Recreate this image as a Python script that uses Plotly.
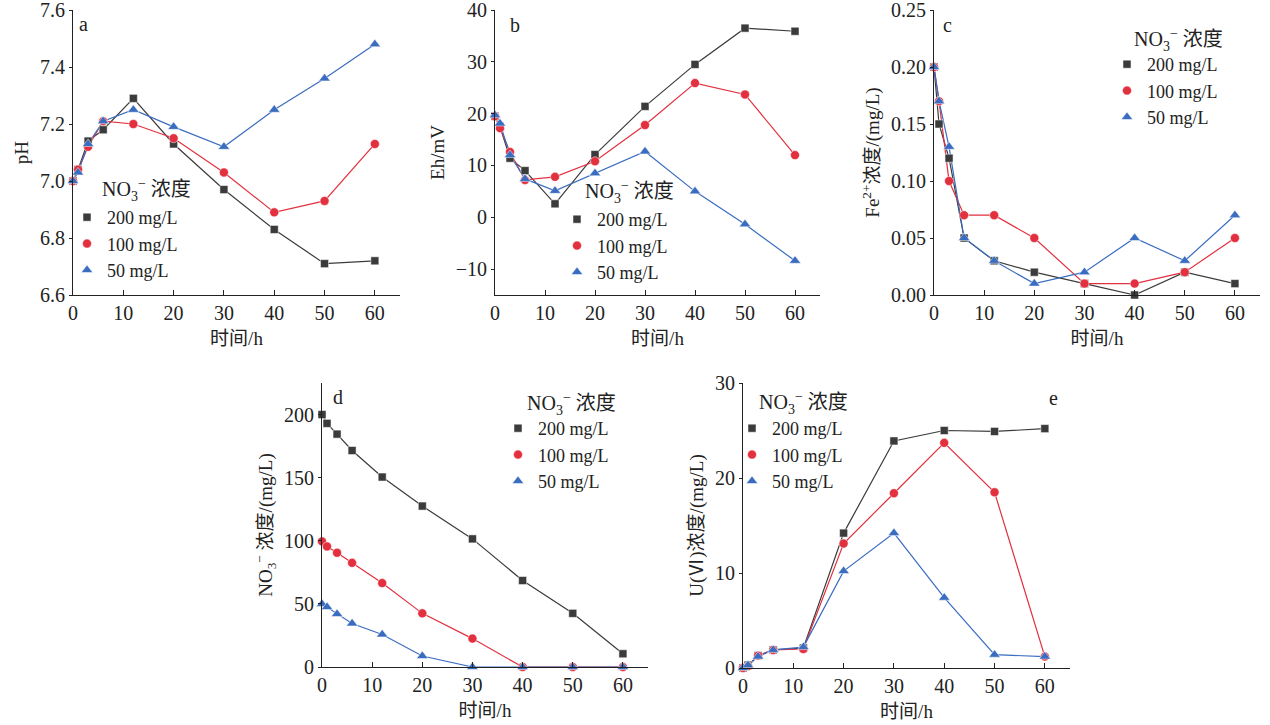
import plotly.graph_objects as go

# sampling times (h)
time_h = [0, 1, 3, 6, 12, 20, 30, 40, 50, 60]

series_names = ["200 mg/L", "100 mg/L", "50 mg/L"]

# a: pH
ph_200 = [7.00, 7.04, 7.14, 7.18, 7.29, 7.13, 6.97, 6.83, 6.71, 6.72]
ph_100 = [7.00, 7.04, 7.12, 7.21, 7.20, 7.15, 7.03, 6.89, 6.93, 7.13]
ph_50 = [7.00, 7.03, 7.13, 7.21, 7.25, 7.19, 7.12, 7.25, 7.36, 7.48]

# b: Eh (mV)
eh_200 = [19.5, 17.5, 11.4, 9.0, 2.6, 12.1, 21.4, 29.5, 36.5, 35.9]
eh_100 = [19.5, 17.2, 12.6, 7.2, 7.8, 10.8, 17.8, 25.9, 23.7, 12.0]
eh_50 = [19.7, 18.1, 12.0, 7.4, 5.1, 8.5, 12.7, 5.0, -1.35, -8.4]

# c: Fe2+ (mg/L)
fe_200 = [0.20, 0.15, 0.12, 0.05, 0.03, 0.02, 0.01, 0.00, 0.02, 0.01]
fe_100 = [0.20, 0.17, 0.10, 0.07, 0.07, 0.05, 0.01, 0.01, 0.02, 0.05]
fe_50 = [0.20, 0.17, 0.13, 0.05, 0.03, 0.01, 0.02, 0.05, 0.03, 0.07]

# d: NO3- (mg/L)
no3_200 = [200, 193, 184.5, 171.5, 150.5, 127.5, 101.5, 68.5, 42.5, 10.5]
no3_100 = [99.5, 95.5, 90.5, 82.5, 66.5, 42.5, 22.5, 0, 0, 0]
no3_50 = [50, 47.5, 42, 34.5, 25.8, 8.7, 0, 0, 0, 0]

# e: U(VI) (mg/L)
u_200 = [0, 0.3, 1.3, 1.9, 2.1, 14.2, 23.9, 25.0, 24.9, 25.2]
u_100 = [0, 0.2, 1.3, 1.9, 2.0, 13.1, 18.4, 23.7, 18.5, 1.2]
u_50 = [0, 0.3, 1.2, 1.9, 2.2, 10.2, 14.2, 7.4, 1.4, 1.2]

colors = ["#3b3b3b", "#e2303f", "#3a6cc0"]
symbols = ["square", "circle", "triangle-up"]
msizes = [8, 9, 10]

FONT = "Liberation Serif, Times New Roman, Noto Sans CJK SC, serif"
LEG_TITLE = "NO<sub>3</sub><sup>−</sup> 浓度"

W, H = 1270, 725


def px(v):
    return v / W


def py(v):
    return 1 - v / H


panels = [
    dict(vals=[ph_200, ph_100, ph_50], xp=(73, 400), yp=(10, 295),
         yr=[6.6, 7.6001], dt=0.2, tf=".1f", yt="pH", letter="a", lx=2, ly=7.55,
         leg=(107, 216), lt=(100, 190)),
    dict(vals=[eh_200, eh_100, eh_50], xp=(495, 820), yp=(10, 295),
         yr=[-15, 40.001], dt=10, tf="", yt="Eh/mV", letter="b", lx=4, ly=37.1,
         leg=(597, 218), lt=(583, 192)),
    dict(vals=[fe_200, fe_100, fe_50], xp=(934, 1260), yp=(10, 295),
         yr=[0, 0.25001], dt=0.05, tf=".2f", yt="Fe<sup>2+</sup>浓度/(mg/L)", letter="c",
         lx=2.6, ly=0.237, leg=(1147, 63), lt=(1132, 40)),
    dict(vals=[no3_200, no3_100, no3_50], xp=(322, 648), yp=(383, 667),
         yr=[0, 225], dt=50, tf="", yt="NO<sub>3</sub><sup>−</sup> 浓度/(mg/L)", letter="d",
         lx=3.2, ly=214, leg=(538, 427), lt=(525, 404)),
    dict(vals=[u_200, u_100, u_50], xp=(743, 1070), yp=(383, 668),
         yr=[0, 30.001], dt=10, tf="", yt="U(Ⅵ)浓度/(mg/L)", letter="e",
         lx=61.8, ly=28.4, leg=(772, 427), lt=(757, 403)),
]

fig = go.Figure()
layout = {}

for i, p in enumerate(panels):
    n = "" if i == 0 else str(i + 1)
    xa, ya = "x" + n, "y" + n
    lg = "legend" + n
    for k in range(3):
        fig.add_trace(go.Scatter(
            x=time_h, y=p["vals"][k], xaxis=xa, yaxis=ya,
            mode="lines", line=dict(color=colors[k], width=1.2),
            showlegend=False, hoverinfo="skip", cliponaxis=False))
    for k in range(3):
        fig.add_trace(go.Scatter(
            x=time_h, y=p["vals"][k], xaxis=xa, yaxis=ya,
            mode="markers", name=series_names[k], legend=lg,
            marker=dict(color=colors[k], symbol=symbols[k], size=msizes[k],
                        line=dict(color="white", width=0.5)),
            cliponaxis=False))

    layout["xaxis" + n] = dict(
        domain=[px(p["xp"][0]), px(p["xp"][1])], anchor=ya, range=[0, 65],
        tickvals=[0, 10, 20, 30, 40, 50, 60],
        ticks="inside", ticklen=5, tickcolor="#222", showline=True, linecolor="#222",
        linewidth=1, showgrid=False, zeroline=False, automargin=False,
        tickfont=dict(size=20),
        title=dict(text="时间/h", standoff=8, font=dict(size=19)))
    layout["yaxis" + n] = dict(
        domain=[py(p["yp"][1]), py(p["yp"][0])], anchor=xa, range=p["yr"],
        dtick=p["dt"], tickformat=p["tf"], ticklabeloverflow="allow",
        ticks="outside", ticklen=3, tickcolor="#222", showline=True, linecolor="#222",
        linewidth=1, showgrid=False, zeroline=False, automargin=False,
        tickfont=dict(size=20),
        title=dict(text=p["yt"], standoff=6, font=dict(size=19)))
    layout[lg] = dict(
        x=px(p["leg"][0] - 40), y=py(p["leg"][1] - 17), xanchor="left", yanchor="top",
        bgcolor="rgba(0,0,0,0)", font=dict(size=18), itemwidth=30, tracegroupgap=0)
    fig.add_annotation(x=p["lx"], y=p["ly"], xref=xa, yref=ya, text=p["letter"],
                       showarrow=False, font=dict(size=20), xanchor="center")
    fig.add_annotation(x=px(p["lt"][0]), y=py(p["lt"][1]), xref="paper", yref="paper",
                       text=LEG_TITLE, showarrow=False, font=dict(size=20),
                       xanchor="left", yanchor="middle")

fig.update_layout(
    width=W, height=H, margin=dict(l=0, r=0, t=0, b=0),
    paper_bgcolor="white", plot_bgcolor="white",
    font=dict(family=FONT, size=19, color="#222"),
    **layout)

# drop the default 8 px body margin so the figure fills the window
fig.write_html("out.html", config={"displayModeBar": False},
               post_script="document.body.style.margin='0';")
